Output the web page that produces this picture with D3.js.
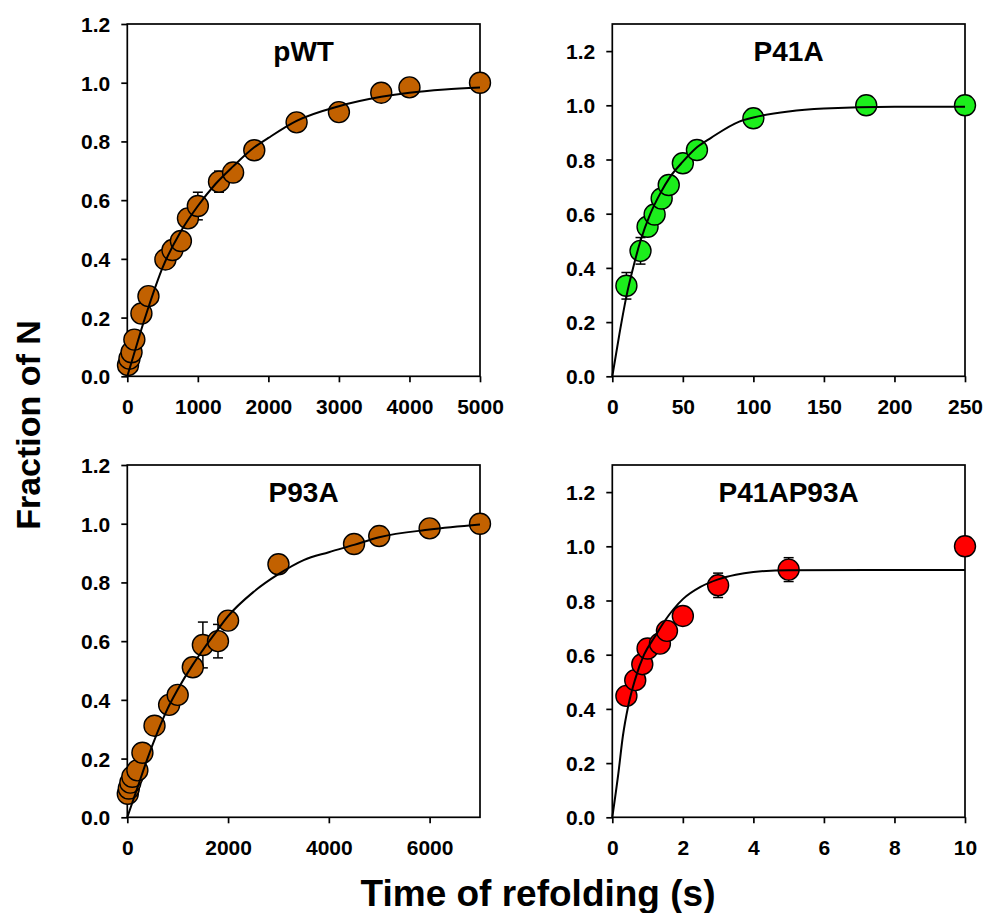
<!DOCTYPE html>
<html>
<head>
<meta charset="utf-8">
<script src="https://cdn.jsdelivr.net/npm/d3@7"></script>
<style>
  html, body { margin: 0; padding: 0; background: #fff; }
  svg { display: block; font-family: "Liberation Sans", Arial, sans-serif; }
</style>
</head>
<body>
<svg id="chart" width="986" height="913"></svg>
<script>
// ---------------- DATA ----------------
const panelTitles = ["pWT", "P41A", "P93A", "P41AP93A"];
const yTickValues = [0, 0.2, 0.4, 0.6, 0.8, 1.0, 1.2];

// pWT
const pwtXTicks = [0, 1000, 2000, 3000, 4000, 5000];
const pwtTime = [10, 30, 60, 100, 200, 300, 540, 640, 760, 860, 1000, 1300, 1500, 1800, 2400, 3000, 3600, 4000, 5000];
const pwtFrac = [0.038, 0.06, 0.082, 0.125, 0.214, 0.273, 0.398, 0.43, 0.461, 0.538, 0.58, 0.663, 0.694, 0.77, 0.865, 0.90, 0.966, 0.984, 1.0];
const pwtErr  = [0, 0, 0, 0, 0, 0, 0, 0, 0, 0, 0.047, 0.036, 0, 0, 0, 0, 0, 0, 0];
const pwtFitTime = [0, 100, 200, 300, 500, 750, 1000, 1250, 1500, 1800, 2000, 2400, 3000, 3600, 4000, 4500, 5000];
const pwtFitFrac = [0, 0.08, 0.16, 0.235, 0.37, 0.49, 0.58, 0.655, 0.715, 0.78, 0.812, 0.87, 0.92, 0.952, 0.966, 0.977, 0.984];

// P41A
const p41aXTicks = [0, 50, 100, 150, 200, 250];
const p41aTime = [10, 20, 25, 30, 35, 40, 50, 60, 100, 180, 250];
const p41aFrac = [0.334, 0.463, 0.552, 0.597, 0.656, 0.706, 0.786, 0.835, 0.952, 1.0, 1.0];
const p41aErr  = [0.049, 0.049, 0, 0, 0, 0, 0, 0, 0, 0, 0];
const p41aFitTime = [0, 5, 10, 15, 20, 27, 34, 41, 50, 60, 70, 90, 100, 125, 150, 200, 250];
const p41aFitFrac = [0, 0.155, 0.295, 0.405, 0.5, 0.6, 0.675, 0.736, 0.792, 0.845, 0.88, 0.94, 0.955, 0.977, 0.988, 0.995, 0.995];

// P93A
const p93aXTicks = [0, 2000, 4000, 6000];
const p93aTime = [10, 30, 60, 100, 200, 300, 540, 830, 1000, 1300, 1500, 1800, 2000, 3000, 4500, 5000, 6000, 7000];
const p93aFrac = [0.08, 0.098, 0.118, 0.138, 0.16, 0.22, 0.312, 0.383, 0.417, 0.511, 0.587, 0.60, 0.67, 0.862, 0.931, 0.958, 0.984, 1.0];
const p93aErr  = [0, 0, 0, 0, 0, 0, 0, 0, 0, 0, 0.078, 0.057, 0, 0, 0, 0, 0, 0];
const p93aFitTime = [0, 200, 400, 600, 800, 1000, 1300, 1500, 1800, 2000, 2500, 3000, 3500, 4000, 4500, 5000, 6000, 7000];
const p93aFitFrac = [0, 0.1, 0.2, 0.29, 0.37, 0.435, 0.52, 0.57, 0.64, 0.685, 0.767, 0.828, 0.876, 0.903, 0.928, 0.954, 0.98, 0.997];

// P41AP93A
const dblXTicks = [0, 2, 4, 6, 8, 10];
const dblTime = [0.4, 0.65, 0.85, 1.0, 1.35, 1.55, 2, 3, 5, 10];
const dblFrac = [0.448, 0.506, 0.565, 0.623, 0.641, 0.688, 0.743, 0.856, 0.914, 1.0];
const dblErr  = [0, 0, 0, 0, 0, 0, 0, 0.045, 0.044, 0];
const dblFitTime = [0, 0.17, 0.3, 0.45, 0.65, 0.9, 1.2, 1.5, 2, 2.5, 3, 3.5, 4, 5, 10];
const dblFitFrac = [0, 0.16, 0.3, 0.41, 0.51, 0.6, 0.665, 0.727, 0.805, 0.85, 0.878, 0.895, 0.905, 0.912, 0.913];

const xMaxes = [5000, 250, 7000, 10];
const yMaxes = [1.2, 1.3, 1.2, 1.3];
const colors = ["#c26100", "#1cee1c", "#c26100", "#ff0000"];

// ---------------- LAYOUT ----------------
const svg = d3.select("#chart");
const W = 352.7, H = 352.3;
const origins = [[127.3, 24], [612.3, 24], [127.3, 465], [612.3, 465]];

const panels = [
  {time: pwtTime, frac: pwtFrac, err: pwtErr, fitT: pwtFitTime, fitF: pwtFitFrac, xt: pwtXTicks},
  {time: p41aTime, frac: p41aFrac, err: p41aErr, fitT: p41aFitTime, fitF: p41aFitFrac, xt: p41aXTicks},
  {time: p93aTime, frac: p93aFrac, err: p93aErr, fitT: p93aFitTime, fitF: p93aFitFrac, xt: p93aXTicks},
  {time: dblTime, frac: dblFrac, err: dblErr, fitT: dblFitTime, fitF: dblFitFrac, xt: dblXTicks}
];

panels.forEach((p, i) => {
  const [ox, oy] = origins[i];
  const g = svg.append("g").attr("transform", `translate(${ox},${oy})`);
  const x = d3.scaleLinear().domain([0, xMaxes[i]]).range([0, W]);
  const y = d3.scaleLinear().domain([0, yMaxes[i]]).range([H, 0]);

  // axes
  const xAxis = d3.axisBottom(x).tickValues(p.xt).tickFormat(d3.format("d"))
    .tickSize(6).tickSizeOuter(0).tickPadding(17);
  const yAxis = d3.axisLeft(y).tickValues(yTickValues).tickFormat(d3.format(".1f"))
    .tickSize(6).tickSizeOuter(0).tickPadding(11);

  const gx = g.append("g").attr("transform", `translate(0,${H})`).call(xAxis);
  const gy = g.append("g").call(yAxis);
  [gx, gy].forEach(a => {
    a.select(".domain").remove();
    a.selectAll(".tick line").attr("stroke", "#000").attr("stroke-width", 1.7);
    a.selectAll(".tick text").attr("fill", "#000").attr("font-size", 21)
      .attr("font-weight", "bold").attr("font-family", "'Liberation Sans', Arial, sans-serif");
  });
  gy.selectAll(".tick text").attr("dy", "0.36em");

  // frame
  g.append("rect").attr("x", 0).attr("y", 0).attr("width", W).attr("height", H)
    .attr("fill", "none").attr("stroke", "#000").attr("stroke-width", 1.7);

  // data rows
  const rows = p.time.map((t, k) => ({t, v: p.frac[k], e: p.err[k]}));

  // error bars
  const eb = g.append("g").attr("stroke", "#000").attr("stroke-width", 1.5);
  rows.filter(d => d.e > 0).forEach(d => {
    const cx = x(d.t), y1 = y(d.v + d.e), y2 = y(d.v - d.e);
    eb.append("line").attr("x1", cx).attr("x2", cx).attr("y1", y1).attr("y2", y2);
    eb.append("line").attr("x1", cx - 5).attr("x2", cx + 5).attr("y1", y1).attr("y2", y1);
    eb.append("line").attr("x1", cx - 5).attr("x2", cx + 5).attr("y1", y2).attr("y2", y2);
  });

  // markers
  g.append("g").selectAll("circle").data(rows).join("circle")
    .attr("cx", d => x(d.t)).attr("cy", d => y(d.v)).attr("r", 10.5)
    .attr("fill", colors[i]).attr("stroke", "#000").attr("stroke-width", 1.4);

  // fit line
  const fit = p.fitT.map((t, k) => [t, p.fitF[k]]);
  g.append("path").datum(fit)
    .attr("d", d3.line().x(d => x(d[0])).y(d => y(d[1])).curve(d3.curveMonotoneX))
    .attr("fill", "none").attr("stroke", "#000").attr("stroke-width", 2);

  // title
  g.append("text").attr("x", W / 2).attr("y", 37).attr("text-anchor", "middle")
    .attr("font-size", 28).attr("font-weight", "bold").attr("fill", "#000")
    .text(panelTitles[i]);
});

// axis titles
svg.append("text").attr("transform", "translate(40,425) rotate(-90)")
  .attr("text-anchor", "middle").attr("font-size", 34).attr("font-weight", "bold")
  .attr("fill", "#000").text("Fraction of N");
svg.append("text").attr("x", 538).attr("y", 906)
  .attr("text-anchor", "middle").attr("font-size", 37).attr("font-weight", "bold")
  .attr("fill", "#000").text("Time of refolding (s)");
</script>
</body>
</html>
